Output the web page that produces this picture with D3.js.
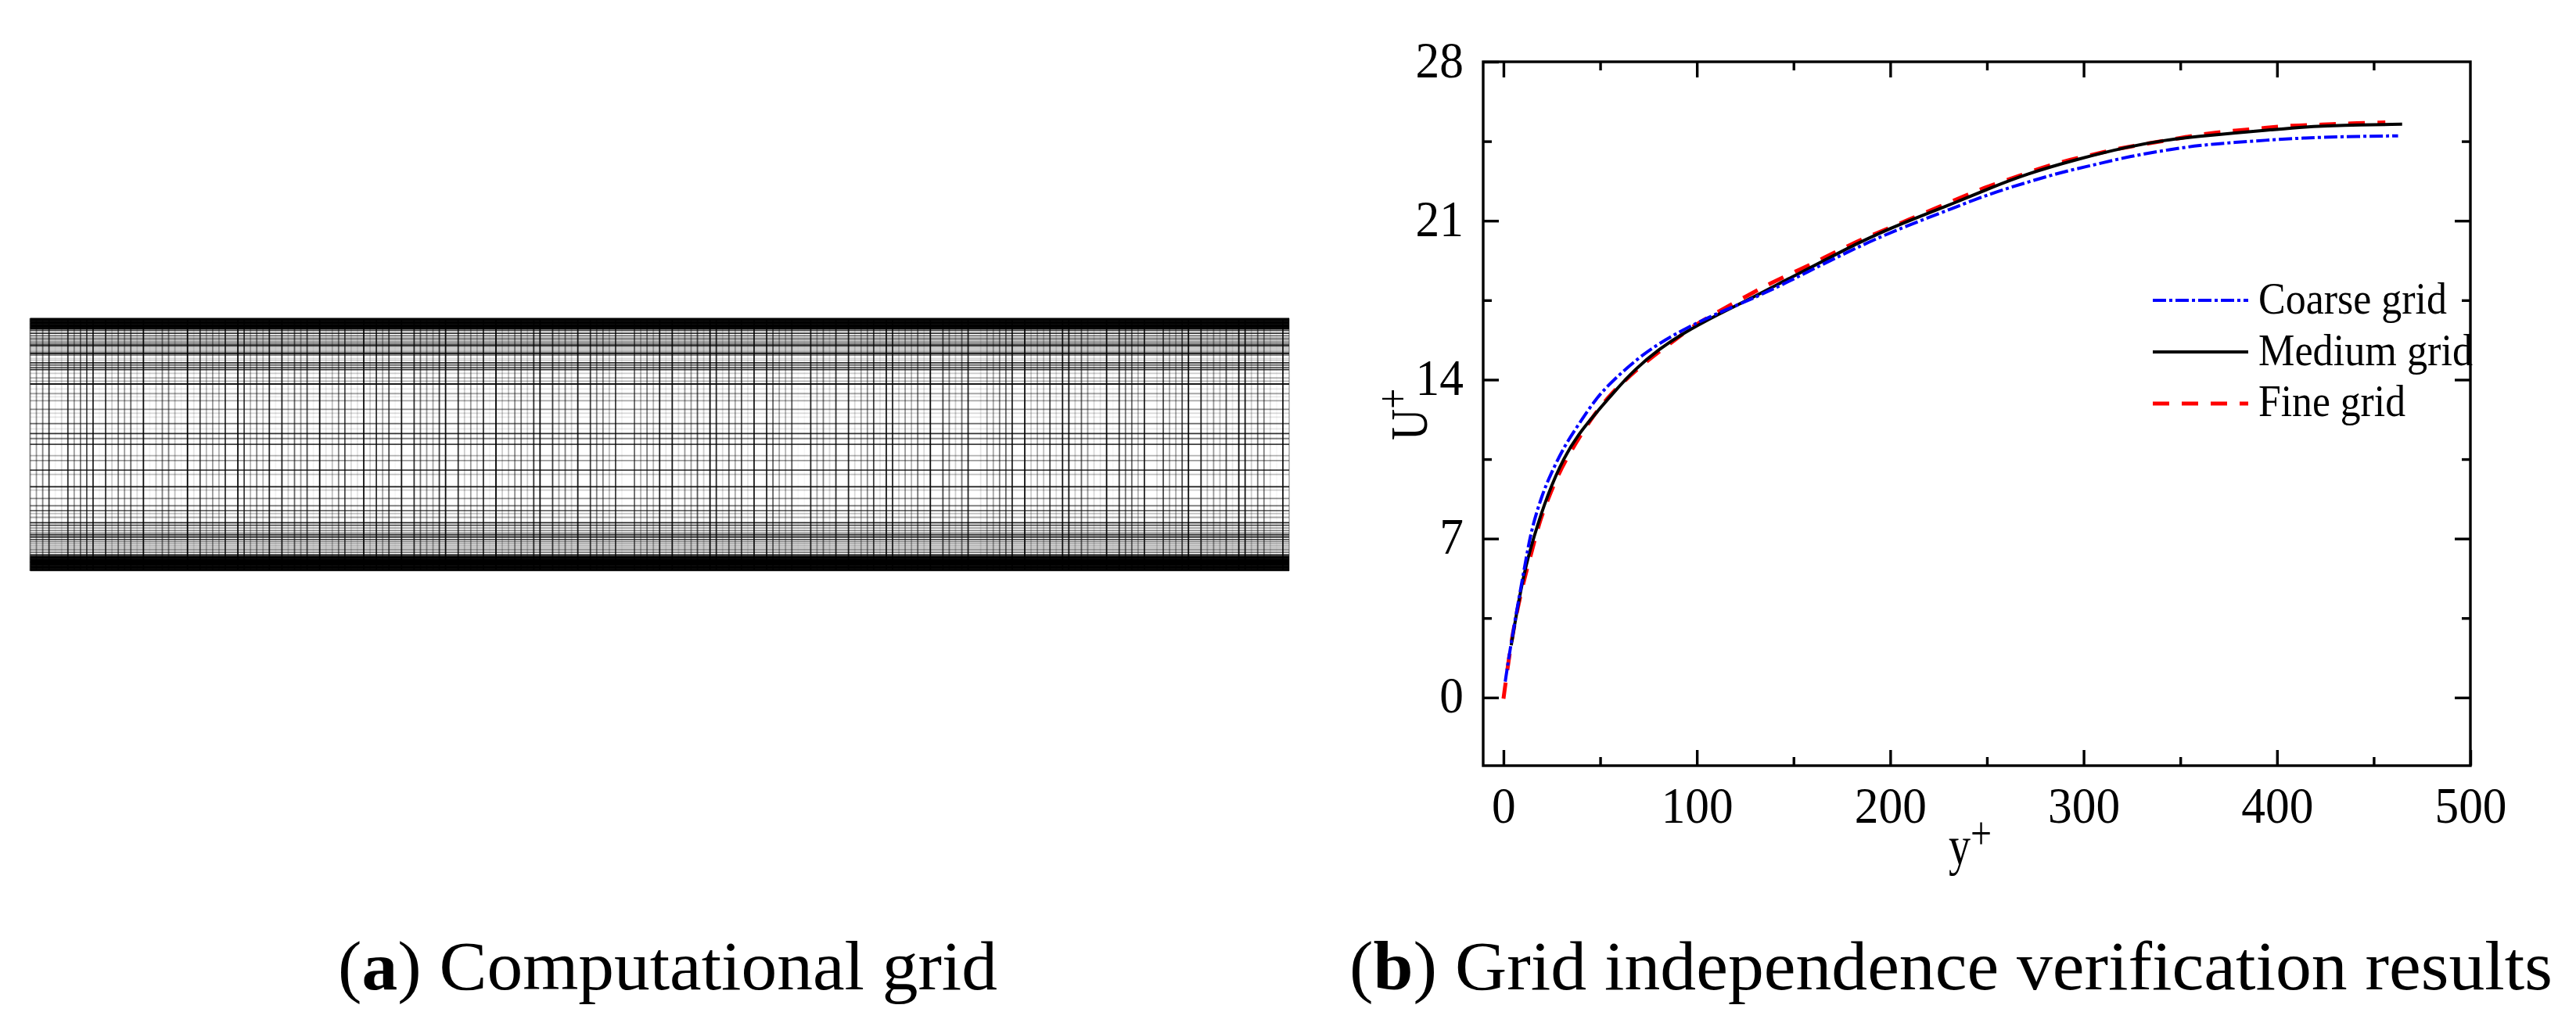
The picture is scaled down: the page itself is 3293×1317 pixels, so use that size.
<!DOCTYPE html>
<html>
<head>
<meta charset="utf-8">
<style>
  html, body { margin: 0; padding: 0; background: #fff; }
  svg { display: block; }
  text { font-family: 'Liberation Serif', serif; fill: #000; }
</style>
<script src="https://cdn.jsdelivr.net/npm/d3@7"></script>
</head>
<body>
<svg id="chart" width="3293" height="1317"></svg>
<script>
// velocity profiles
const coarseX = [0.9, 3.6, 8.1, 11.8, 14.5, 19.9, 24.4, 31.6, 38.9, 48, 57, 69.6, 80.5, 95, 111, 129, 147, 165.5, 183.5, 201.6, 233.8, 251.9, 270, 288, 306, 324, 342, 360, 378.5, 396.5, 414.6, 432.7, 462.6]
const coarseU = [0.7, 2.24, 4.43, 6.16, 7.42, 8.92, 9.84, 11.1, 12.03, 13.2, 14, 14.95, 15.6, 16.3, 16.94, 17.57, 18.3, 19.1, 19.85, 20.54, 21.6, 22.2, 22.67, 23.13, 23.47, 23.84, 24.1, 24.33, 24.45, 24.56, 24.65, 24.7, 24.74]
const mediumX = [4, 6.3, 10.8, 15.4, 22.6, 31.6, 38.9, 46, 57, 67.8, 80.5, 93, 111, 129, 147, 165.5, 183.5, 201.6, 212.5, 233.8, 251.9, 270, 297, 324, 342, 360, 378.5, 396.5, 414.6, 432.7, 464.7]
const mediumU = [2.3, 3.5, 5.58, 7, 8.92, 10.64, 11.6, 12.35, 13.44, 14.45, 15.35, 16.05, 16.88, 17.62, 18.43, 19.23, 20.03, 20.72, 21.1, 21.8, 22.45, 23.05, 23.72, 24.28, 24.55, 24.72, 24.87, 25, 25.14, 25.2, 25.25]
const fineX = [0, 2.7, 5.4, 10, 14.5, 19, 24.4, 30.7, 46, 55, 60.6, 75, 89.5, 98.6, 111, 125.7, 138, 152.8, 165.5, 180, 192.6, 207, 235.6, 248.3, 261, 275.4, 290, 304.4, 319, 333.4, 349.6, 364, 378.5, 393, 407.4, 423.7, 438, 456]
const fineU = [-0.05, 1.67, 3.16, 5, 6.38, 7.88, 9.03, 10.3, 12.4, 13.3, 13.8, 14.9, 15.8, 16.4, 16.99, 17.68, 18.25, 18.83, 19.35, 19.98, 20.44, 20.95, 21.99, 22.45, 22.8, 23.25, 23.63, 23.9, 24.2, 24.4, 24.64, 24.85, 24.97, 25.08, 25.2, 25.23, 25.29, 25.33]

const xMajor = [0, 100, 200, 300, 400, 500]
const xMinor = [50, 150, 250, 350, 450]
const yMajor = [0, 7, 14, 21, 28]
const yMinor = [3.5, 10.5, 17.5, 24.5]

const legendNames = ['Coarse grid', 'Medium grid', 'Fine grid']

// panel (a): darkness of each of the 201 mesh columns, left to right
const meshColumnShade = [
  .5, .4, .5, .75, .05, .15, .8, .4, .55, .7, .85, .03, .8, .2, .55, .4, .6, .15, .95, .05,
  .25, .5, .5, .25, .05, 1, .1, .7, .3, .4, .3, .8, 0, .95, .75, .3, .5, .3, .85, .05,
  .85, .2, .6, .4, .7, .05, .95, .1, .25, .5, .7, .15, .1, .95, .2, .8, .35, .7, .03, .9,
  0, .8, .55, .4, .35, .75, .95, 0, .8, .2, .4, .25, .8, .05, 1, .2, .25, .45, .55, .2,
  .8, .95, 0, .75, .35, .5, .2, .9, 0, .75, .5, .5, .25, .75, .05, 0, .6, .3, .5, .3,
  .85, .1, .9, .15, .4, .4, .65, .2, .95, .85, .15, .6, .35, .7, .1, .9, 0, .85, .6, .35,
  .3, .65, .03, .03, .85, .35, .5, .15, .8, 0, .85, .15, .35, .45, .75, .1, .9, .85, .2, .4,
  .3, .55, .15, .95, 0, .7, .5, .2, .55, .85, 0, .1, .4, .35, .5, .6, .85, 0, .95, .2,
  .35, .25, .7, .15, .9, .9, .2, .6, .4, .15, .1, .95, .03, .75, .55, .6, .3, .85, 0, .15,
  .7, .35, .35, .7, .95, 0, .85, .25, .4, .25, .7, .1, .95, .9, .2, .55, .5, .15, .03, .9,
  .3
]

// mesh rows: distance from the top wall (per mille of the channel height) and darkness
const meshRowPos = [
  1, 5, 9, 13, 17, 21, 25, 29, 33, 37, 41, 48, 59, 69, 79, 85, 92, 98, 104, 109, 115, 121, 128,
  134, 140, 146, 159, 166, 176, 185, 195, 203, 218, 236, 249, 260, 280, 298, 311, 326, 360, 376,
  391, 417, 438, 456, 476, 499, 544, 563, 601, 618, 667, 680, 713, 742, 761, 773, 788, 809, 819,
  830, 840, 850, 857, 866, 876, 884, 893, 901, 909, 917, 926, 936, 942, 946, 950, 954, 958, 962,
  966, 970, 974, 978, 982, 986, 990, 994, 998
]
const meshRowShade = [
  1, 1, 1, 1, 1, 1, 1, 1, 1, 1, 1, .7, .8, .6, .5, .4, .4, .5, .7, .8, .25, .25, .3,
  .5, .95, .5, .15, .2, .8, .6, .6, .8, .2, .3, .3, .9, .1, .35, .1, .35, .45, .15,
  .1, .6, .1, .8, .5, .75, .3, .4, .75, .25, .9, .2, .45, .55, .6, .25, .35, .85, .7,
  .4, .5, .5, .8, .95, .7, .5, .4, .3, .35, .5, .55, .85, .9, 1, 1, 1, 1, 1,
  1, 1, 1, 1, 1, 1, 1, 1, 1
]

const svg = d3.select('#chart')

// ---- panel (a)
const meshX = d3.scaleLinear().domain([0, meshColumnShade.length - 1]).range([38.5, 1648])
const meshY = d3.scaleLinear().domain([0, 1000]).range([407, 730])

const mesh = svg.append('g').attr('class', 'mesh').attr('stroke', '#000').attr('stroke-width', 1.8)

mesh
  .selectAll('line.row')
  .data(meshRowPos)
  .join('line')
  .attr('class', 'row')
  .attr('x1', meshX.range()[0])
  .attr('x2', meshX.range()[1])
  .attr('y1', (d) => meshY(d))
  .attr('y2', (d) => meshY(d))
  .attr('stroke-opacity', (_, i) => meshRowShade[i])

mesh
  .selectAll('line.col')
  .data(meshColumnShade)
  .join('line')
  .attr('class', 'col')
  .attr('x1', (_, i) => meshX(i))
  .attr('x2', (_, i) => meshX(i))
  .attr('y1', meshY(0))
  .attr('y2', meshY(1000))
  .attr('stroke-opacity', (d) => d)

// ---- panel (b)
const frame = { left: 1896, right: 3158, top: 79, bottom: 979 }
const x = d3.scaleLinear().domain([-10.5, 500]).range([frame.left, frame.right])
const y = d3.scaleLinear().domain([-3, 28]).range([frame.bottom, frame.top])

const TICK_FONT = 66
const tickTextLength = (s) => String(s).length * TICK_FONT * 0.5 * 0.93

const styleAxis = (g) => {
  g.select('.domain').remove()
  g.selectAll('line').attr('stroke', '#000').attr('stroke-width', 3.4)
}

const axisAt = (axis, dx, dy) =>
  svg
    .append('g')
    .attr('transform', `translate(${dx},${dy})`)
    .call(axis)
    .call(styleAxis)

// labelled bottom and left axes, ticks point into the frame
axisAt(d3.axisBottom(x).tickValues(xMajor).tickSizeInner(-20).tickSizeOuter(0), 0, frame.bottom)
  .selectAll('text')
  .attr('y', 73)
  .attr('dy', 0)
  .attr('font-size', TICK_FONT)
  .attr('font-family', 'Liberation Serif')
  .attr('textLength', tickTextLength)
  .attr('lengthAdjust', 'spacingAndGlyphs')

axisAt(d3.axisLeft(y).tickValues(yMajor).tickSizeInner(-20).tickSizeOuter(0), frame.left, 0)
  .selectAll('text')
  .attr('x', -25)
  .attr('dy', 19)
  .attr('font-size', TICK_FONT)
  .attr('font-family', 'Liberation Serif')
  .attr('textLength', tickTextLength)
  .attr('lengthAdjust', 'spacingAndGlyphs')

axisAt(d3.axisBottom(x).tickValues(xMinor).tickSizeInner(-11).tickSizeOuter(0).tickFormat(''), 0, frame.bottom)
axisAt(d3.axisLeft(y).tickValues(yMinor).tickSizeInner(-11).tickSizeOuter(0).tickFormat(''), frame.left, 0)
axisAt(d3.axisTop(x).tickValues(xMajor.slice(0, -1)).tickSizeInner(-20).tickSizeOuter(0).tickFormat(''), 0, frame.top)
axisAt(d3.axisTop(x).tickValues(xMinor).tickSizeInner(-11).tickSizeOuter(0).tickFormat(''), 0, frame.top)
axisAt(d3.axisRight(y).tickValues(yMajor.slice(0, -1)).tickSizeInner(-20).tickSizeOuter(0).tickFormat(''), frame.right, 0)
axisAt(d3.axisRight(y).tickValues(yMinor).tickSizeInner(-11).tickSizeOuter(0).tickFormat(''), frame.right, 0)

svg
  .append('rect')
  .attr('x', frame.left)
  .attr('y', frame.top)
  .attr('width', frame.right - frame.left)
  .attr('height', frame.bottom - frame.top)
  .attr('fill', 'none')
  .attr('stroke', '#000')
  .attr('stroke-width', 3.4)

const line = d3
  .line()
  .x((d) => x(d[0]))
  .y((d) => y(d[1]))
  .curve(d3.curveBasis)

// red goes under black, blue on top, same as the original
const series = [
  { xs: fineX, us: fineU, color: '#f00', dash: '21,16', width: 5 },
  { xs: mediumX, us: mediumU, color: '#000', dash: null, width: 4 },
  { xs: coarseX, us: coarseU, color: '#00f', dash: '17,4,4,4', width: 4 },
]

series.forEach((s) => {
  svg
    .append('path')
    .attr('d', line(d3.zip(s.xs, s.us)))
    .attr('fill', 'none')
    .attr('stroke', s.color)
    .attr('stroke-width', s.width)
    .attr('stroke-dasharray', s.dash)
})

// legend, same order as the names
const legendStyles = [series[2], series[1], series[0]]
const legendLineY = [384, 450, 516]
const legendBaseline = [401, 467, 532]
const legendWidth = [241, 274, 188]

legendNames.forEach((name, i) => {
  svg
    .append('line')
    .attr('x1', 2752)
    .attr('x2', 2874)
    .attr('y1', legendLineY[i])
    .attr('y2', legendLineY[i])
    .attr('stroke', legendStyles[i].color)
    .attr('stroke-width', legendStyles[i].width)
    .attr('stroke-dasharray', legendStyles[i].dash)
  svg
    .append('text')
    .attr('x', 2887)
    .attr('y', legendBaseline[i])
    .attr('font-size', 56)
    .attr('textLength', legendWidth[i])
    .attr('lengthAdjust', 'spacingAndGlyphs')
    .text(name)
})

// axis titles with the raised plus
const yTitle = svg
  .append('text')
  .attr('transform', 'translate(1824,563) rotate(-90) scale(.82,1)')
  .attr('font-size', 68)
yTitle.append('tspan').text('U')
yTitle.append('tspan').attr('font-size', 56).attr('dy', -24).text('+')

const xTitle = svg
  .append('text')
  .attr('transform', 'translate(2491,1105) scale(.8,1)')
  .attr('font-size', 70)
xTitle.append('tspan').text('y')
xTitle.append('tspan').attr('font-size', 60).attr('dy', -20).text('+')

// captions
const caption = (left, right, tag, rest) => {
  const t = svg
    .append('text')
    .attr('x', left)
    .attr('y', 1265)
    .attr('font-size', 88)
    .attr('textLength', right - left)
    .attr('lengthAdjust', 'spacingAndGlyphs')
  t.append('tspan').text('(')
  t.append('tspan').attr('font-weight', 'bold').text(tag)
  t.append('tspan').text(') ' + rest)
}

caption(432, 1275, 'a', 'Computational grid')
caption(1725, 3263, 'b', 'Grid independence verification results')
</script>
</body>
</html>
